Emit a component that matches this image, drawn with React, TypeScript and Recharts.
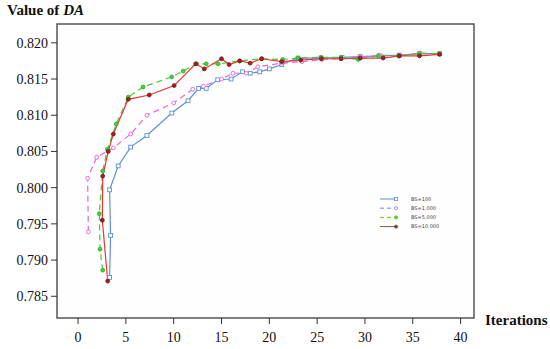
import React from 'react';
import { LineChart, Line, XAxis, YAxis, ReferenceArea } from 'recharts';

// iteration / DA value pairs
const bs100X = [3.3, 3.4, 3.3, 4.2, 5.5, 7.2, 9.8, 11.5, 12.6, 13.4, 14.6, 16.0, 17.2, 18.0, 19.0, 20.0, 21.3, 23.0, 25.4, 27.6, 29.5, 31.5, 33.6, 35.7, 37.8];
const bs100Y = [0.7876, 0.7934, 0.7997, 0.803, 0.8056, 0.8072, 0.8103, 0.812, 0.8137, 0.8137, 0.8149, 0.815, 0.816, 0.8158, 0.816, 0.8164, 0.817, 0.8179, 0.8179, 0.818, 0.8181, 0.8182, 0.8183, 0.8185, 0.8185];

const bs1000X = [1.08, 1.0, 1.95, 3.7, 5.5, 7.2, 10.0, 12.0, 13.1, 15.0, 16.2, 17.6, 18.8, 21.3, 23.4, 25.5, 27.5, 29.5, 31.5, 33.6, 35.7, 37.8];
const bs1000Y = [0.7939, 0.8013, 0.8042, 0.8055, 0.8074, 0.81, 0.8117, 0.8136, 0.814, 0.815, 0.8158, 0.8158, 0.8167, 0.8172, 0.8174, 0.8177, 0.8178, 0.818, 0.8183, 0.8182, 0.8186, 0.8185];

const bs5000X = [2.58, 2.3, 2.22, 2.58, 3.06, 4.0, 5.25, 6.8, 9.8, 11.0, 12.4, 13.4, 14.65, 16.9, 19.2, 21.4, 23.0, 25.4, 27.5, 29.3, 31.4, 33.5, 35.7, 37.8];
const bs5000Y = [0.7886, 0.7915, 0.7964, 0.8023, 0.8053, 0.8088, 0.8125, 0.8139, 0.8153, 0.8161, 0.8171, 0.8171, 0.8171, 0.8175, 0.8178, 0.8177, 0.8179, 0.818, 0.818, 0.8177, 0.8182, 0.8182, 0.8185, 0.8185];

const bs10000X = [3.1, 2.54, 2.58, 3.16, 3.69, 5.25, 7.45, 10.05, 12.3, 13.2, 15.0, 15.8, 16.9, 18.0, 19.2, 21.3, 23.3, 25.45, 27.5, 29.5, 31.9, 33.6, 35.7, 37.8];
const bs10000Y = [0.7871, 0.7955, 0.8016, 0.805, 0.8074, 0.8122, 0.8128, 0.8141, 0.8171, 0.8164, 0.8178, 0.817, 0.8175, 0.8172, 0.8178, 0.8174, 0.8176, 0.8178, 0.8178, 0.8179, 0.8179, 0.8182, 0.8182, 0.8184];

const xTicks = [0, 5, 10, 15, 20, 25, 30, 35, 40];
const yTicks = [0.785, 0.79, 0.795, 0.8, 0.805, 0.81, 0.815, 0.82];
const seriesNames = ['BS=100', 'BS=1,000', 'BS=5,000', 'BS=10,000'];

const toPoints = (xs: number[], ys: number[]) => xs.map((x, i) => ({ x, y: ys[i] }));

const serif = '"Liberation Serif", "Times New Roman", serif';

const squareDot = (color: string) => (props: any) => {
  const { cx, cy, index } = props;
  return <rect key={index} x={cx - 1.9} y={cy - 1.9} width={3.8} height={3.8} fill="#fff" stroke={color} strokeWidth={0.9} />;
};

const circleDot = (color: string, fill: string, r: number) => (props: any) => {
  const { cx, cy, index } = props;
  return <circle key={index} cx={cx} cy={cy} r={r} fill={fill} stroke={color} strokeWidth={0.9} />;
};

const renderXTick = (props: any) => {
  const { x, y, payload, index } = props;
  return (
    <text key={index} x={x} y={y + 16} textAnchor="middle" fontSize={14} fill="#111" fontFamily="Liberation Serif" style={{ fontFamily: serif }}>
      {payload.value}
    </text>
  );
};

const renderYTick = (props: any) => {
  const { x, y, payload, index } = props;
  return (
    <text key={index} x={x - 1} y={y + 5} textAnchor="end" fontSize={14} fill="#111" fontFamily="Liberation Serif" style={{ fontFamily: serif }}>
      {Number(payload.value).toFixed(3)}
    </text>
  );
};

const legendItems = [
  { color: '#5b8fd8', dash: undefined, fill: '#fff', square: true },
  { color: '#a070e0', dash: '4 3', fill: '#fff', square: false },
  { color: '#66cc22', dash: '4 3', fill: '#44dd33', square: false },
  { color: '#8a5a3a', dash: undefined, fill: '#6b3a20', square: false },
];

const App: React.FC = () => {
  return (
    <div style={{ position: 'absolute', left: 0, top: 0, width: 550, height: 349, background: '#fff', fontFamily: serif }}>
      <LineChart width={550} height={349} margin={{ top: 24, right: 76, bottom: 0, left: 0 }} style={{ fontFamily: serif }}>
        <ReferenceArea x1={-2.2} x2={41.4} y1={0.782} y2={0.8226} fill="#fdfdfd" stroke="#555" strokeWidth={1.5} ifOverflow="visible" />
        <XAxis
          type="number"
          dataKey="x"
          domain={[-2.2, 41.4]}
          ticks={xTicks}
          allowDataOverflow
          axisLine={false}
          tickSize={6}
          height={31}
          tick={renderXTick}
          tickLine={{ stroke: '#333' }}
        />
        <YAxis
          type="number"
          dataKey="y"
          domain={[0.782, 0.8226]}
          ticks={yTicks}
          allowDataOverflow
          axisLine={false}
          tickSize={6}
          width={57}
          tick={renderYTick}
          tickLine={{ stroke: '#333' }}
        />
        <Line data={toPoints(bs100X, bs100Y)} dataKey="y" name={seriesNames[0]} stroke="#5b8fd8" strokeWidth={1.2} dot={squareDot('#5b8fd8')} isAnimationActive={false} />
        <Line data={toPoints(bs1000X, bs1000Y)} dataKey="y" name={seriesNames[1]} stroke="#f060d8" strokeWidth={1.2} strokeDasharray="6 4" dot={circleDot('#e860d8', '#fff', 1.9)} isAnimationActive={false} />
        <Line data={toPoints(bs5000X, bs5000Y)} dataKey="y" name={seriesNames[2]} stroke="#44cc33" strokeWidth={1.2} strokeDasharray="6 4" dot={circleDot('#33aa33', '#33dd33', 1.9)} isAnimationActive={false} />
        <Line data={toPoints(bs10000X, bs10000Y)} dataKey="y" name={seriesNames[3]} stroke="#ee3333" strokeWidth={1.2} dot={circleDot('#552222', '#cc1111', 1.9)} isAnimationActive={false} />
      </LineChart>

      <svg style={{ position: 'absolute', left: 378, top: 194 }} width={70} height={40}>
        {legendItems.map((it, i) => {
          const y = 5 + i * 9.2;
          return (
            <g key={seriesNames[i]}>
              <line x1={2} x2={19} y1={y} y2={y} stroke={it.color} strokeWidth={1} strokeDasharray={it.dash} />
              {it.square ? (
                <rect x={16.5} y={y - 1.6} width={3.2} height={3.2} fill={it.fill} stroke={it.color} strokeWidth={0.8} />
              ) : (
                <circle cx={18} cy={y} r={1.6} fill={it.fill} stroke={it.color} strokeWidth={0.8} />
              )}
              <text x={33} y={y + 1.7} fontSize={5} fill="#444" fontFamily='"DejaVu Sans", sans-serif'>{seriesNames[i]}</text>
            </g>
          );
        })}
      </svg>

      <div style={{ position: 'absolute', left: 7, top: 0, fontSize: 15, fontWeight: 'bold', fontFamily: serif, lineHeight: '20px', color: '#111' }}>
        Value of <i>DA</i>
      </div>
      <div style={{ position: 'absolute', left: 485, top: 310, fontSize: 15, fontWeight: 'bold', fontFamily: serif, lineHeight: '20px', color: '#111' }}>
        Iterations
      </div>
    </div>
  );
};

export default App;
